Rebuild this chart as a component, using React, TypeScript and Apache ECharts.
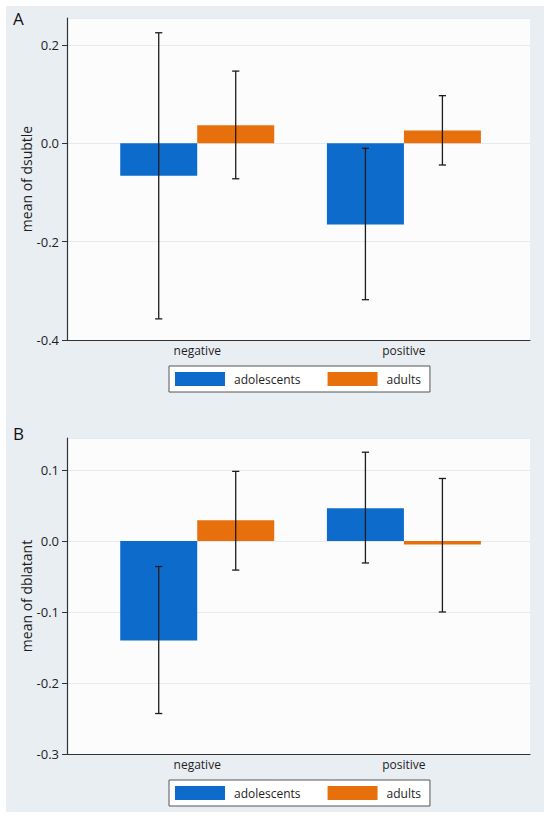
import React, { useEffect, useRef } from "react";
import * as echarts from "echarts";

const categories = ["negative", "positive"];
const groups = ["adolescents", "adults"];

// Panel A: mean of dsubtle
const subtleAdolMean = [-0.066, -0.165];
const subtleAdolLo = [-0.357, -0.318];
const subtleAdolHi = [0.225, -0.01];
const subtleAdultMean = [0.037, 0.026];
const subtleAdultLo = [-0.072, -0.044];
const subtleAdultHi = [0.147, 0.097];

// Panel B: mean of dblatant
const blatantAdolMean = [-0.14, 0.046];
const blatantAdolLo = [-0.243, -0.031];
const blatantAdolHi = [-0.036, 0.125];
const blatantAdultMean = [0.029, -0.005];
const blatantAdultLo = [-0.041, -0.1];
const blatantAdultHi = [0.098, 0.088];

const yTicksA = [-0.4, -0.2, 0.0, 0.2];
const yTicksB = [-0.3, -0.2, -0.1, 0.0, 0.1];

const BLUE = "#0d6bcb";
const ORANGE = "#e8700c";
const FONT = "Open Sans";
const BAR_W = 77;

function fmt(v: number) {
  if (Math.abs(v) < 1e-9) return "0.0";
  return v.toFixed(1);
}

function barData(vals: number[]) {
  return vals.map((v, i) => [i, v]);
}
function ciData(lo: number[], hi: number[]) {
  return lo.map((l, i) => [i, l, hi[i]]);
}

function makeCI(name: string, lo: number[], hi: number[], axis: number, offset: number) {
  return {
    type: "custom",
    name,
    xAxisIndex: axis,
    yAxisIndex: axis,
    z: 10,
    silent: true,
    data: ciData(lo, hi),
    renderItem: (params: any, api: any) => {
      const x = api.value(0);
      const pLo = api.coord([x, api.value(1)]);
      const pHi = api.coord([x, api.value(2)]);
      const cx = pLo[0] + offset;
      const cap = 3.6;
      const style = { stroke: "#1c1c1c", lineWidth: 1.3 };
      return {
        type: "group",
        children: [
          { type: "line", shape: { x1: cx, y1: pLo[1], x2: cx, y2: pHi[1] }, style },
          { type: "line", shape: { x1: cx - cap, y1: pLo[1], x2: cx + cap, y2: pLo[1] }, style },
          { type: "line", shape: { x1: cx - cap, y1: pHi[1], x2: cx + cap, y2: pHi[1] }, style },
        ],
      };
    },
  };
}

function makeBar(name: string, vals: number[], axis: number, color: string) {
  return {
    type: "bar",
    name,
    xAxisIndex: axis,
    yAxisIndex: axis,
    barWidth: BAR_W,
    barGap: "0%",
    itemStyle: { color },
    data: barData(vals),
  };
}

function makeX(idx: number) {
  return {
    type: "value",
    gridIndex: idx,
    min: -0.63,
    max: 1.61,
    axisLine: { show: true, onZero: false, lineStyle: { color: "#333", width: 1.2 } },
    axisTick: { show: false },
    splitLine: { show: false },
    axisLabel: {
      customValues: [0, 1],
      formatter: (v: number) => categories[Math.round(v)] ?? "",
      fontFamily: FONT,
      fontSize: 12,
      color: "#1e1e1e",
      margin: 4,
    },
  };
}

function makeY(idx: number, name: string, min: number, max: number, interval: number) {
  return {
    type: "value",
    gridIndex: idx,
    min,
    max,
    interval,
    name,
    nameLocation: "middle",
    nameGap: 34,
    nameMoveOverlap: false,
    nameTextStyle: { fontFamily: FONT, fontSize: 14, color: "#1e1e1e" },
    axisLine: { show: true, onZero: false, lineStyle: { color: "#333", width: 1.2 } },
    axisTick: { show: true, length: 5, lineStyle: { color: "#333" } },
    splitLine: { show: true, lineStyle: { color: "#e6ebf1", width: 1 } },
    axisLabel: {
      showMaxLabel: false,
      formatter: (v: number) => fmt(v),
      fontFamily: FONT,
      fontSize: 13,
      color: "#1e1e1e",
      margin: 8,
    },
  };
}

function makeLegend(top: number) {
  return {
    left: 169,
    top,
    orient: "horizontal",
    data: groups,
    icon: "rect",
    itemWidth: 50,
    itemHeight: 14,
    itemGap: 27,
    selectedMode: false,
    backgroundColor: "#ffffff",
    borderColor: "#555",
    borderWidth: 1,
    borderRadius: 0,
    padding: [6, 9, 6, 6],
    textStyle: { fontFamily: FONT, fontSize: 12, color: "#1e1e1e", padding: [0, 0, 0, 4] },
  };
}

export default function App() {
  const ref = useRef<HTMLDivElement>(null);
  useEffect(() => {
    if (!ref.current) return;
    const chart = echarts.init(ref.current, null, { renderer: "svg" });
    const offAdol = -BAR_W / 2;
    const offAdult = BAR_W / 2;
    chart.setOption({
      animation: false,
      textStyle: { fontFamily: FONT },
      graphic: [
        {
          type: "rect",
          z: -10,
          shape: { x: 6, y: 6, width: 538, height: 806 },
          style: { fill: "#e9eef3" },
          silent: true,
        },
        {
          type: "text",
          left: 13,
          top: 10,
          style: { text: "A", font: `17px "${FONT}"`, fill: "#111" },
        },
        {
          type: "text",
          left: 13,
          top: 425,
          style: { text: "B", font: `17px "${FONT}"`, fill: "#111" },
        },
      ],
      grid: [
        { left: 67, top: 18, width: 463, height: 322, show: true, backgroundColor: "#fcfcfd", borderWidth: 0 },
        { left: 67, top: 438, width: 463, height: 316, show: true, backgroundColor: "#fcfcfd", borderWidth: 0 },
      ],
      xAxis: [makeX(0), makeX(1)],
      yAxis: [
        makeY(0, "mean of dsubtle", yTicksA[0], 0.255, 0.2),
        makeY(1, "mean of dblatant", yTicksB[0], 0.145, 0.1),
      ],
      legend: [makeLegend(366), makeLegend(780)],
      series: [
        makeBar("adolescents", subtleAdolMean, 0, BLUE),
        makeBar("adults", subtleAdultMean, 0, ORANGE),
        makeCI("ci-adol-A", subtleAdolLo, subtleAdolHi, 0, offAdol),
        makeCI("ci-adult-A", subtleAdultLo, subtleAdultHi, 0, offAdult),
        makeBar("adolescents", blatantAdolMean, 1, BLUE),
        makeBar("adults", blatantAdultMean, 1, ORANGE),
        makeCI("ci-adol-B", blatantAdolLo, blatantAdolHi, 1, offAdol),
        makeCI("ci-adult-B", blatantAdultLo, blatantAdultHi, 1, offAdult),
      ],
    });
    return () => chart.dispose();
  }, []);
  return (
    <div
      ref={ref}
      style={{ position: "fixed", left: 0, top: 0, width: 550, height: 818, background: "#ffffff" }}
    />
  );
}
